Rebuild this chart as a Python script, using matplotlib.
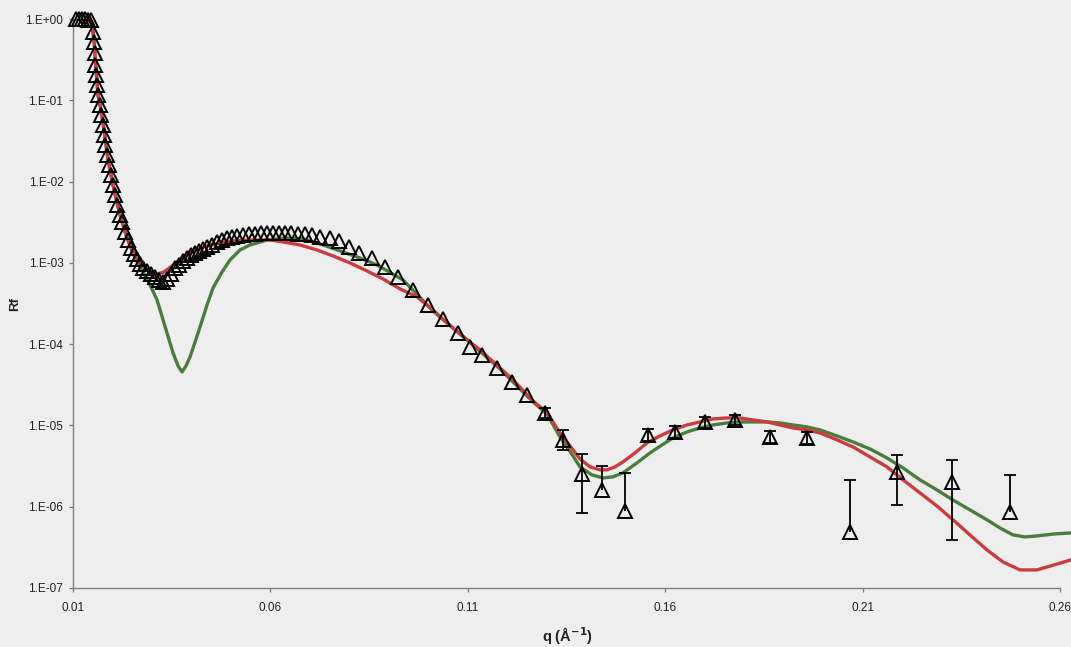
import numpy as np
import matplotlib
matplotlib.use("Agg")
import matplotlib.pyplot as plt
from matplotlib.ticker import FixedLocator, NullLocator

plt.rcParams['font.family'] = ['Liberation Sans', 'DejaVu Sans']

# measured reflectivity (dense low-q part)
q_data = [0.01076, 0.01152, 0.01228, 0.01304, 0.0138, 0.01456,
          0.01507, 0.01532, 0.01545, 0.01557, 0.01583, 0.01608, 0.01633, 0.01684, 0.01709, 0.0176,
          0.01785, 0.01811, 0.01861, 0.01912, 0.01962, 0.02013, 0.02064, 0.02114, 0.0219, 0.02241,
          0.02317, 0.02393, 0.02469, 0.02545, 0.02621, 0.02697, 0.02773, 0.02874, 0.02976, 0.03077,
          0.03178, 0.0328, 0.03381, 0.03482, 0.03584, 0.03685, 0.03786, 0.03888, 0.03989, 0.0409,
          0.04191, 0.04293, 0.04394, 0.04521, 0.04647, 0.04774, 0.049, 0.05027, 0.05154, 0.05306,
          0.05458, 0.0561, 0.05762, 0.05914, 0.06066, 0.06218, 0.0637, 0.06522, 0.06699, 0.06876,
          0.07054, 0.07256, 0.0751, 0.07738, 0.07991, 0.08244, 0.08574, 0.08903, 0.09232, 0.09612,
          0.09992, 0.10372, 0.10752, 0.11056, 0.1136, 0.1174, 0.1212, 0.125]
r_data = [1.0, 1.0, 1.0, 0.99, 0.98, 0.96,
          0.692, 0.521, 0.382, 0.272, 0.205, 0.154, 0.116, 0.0875, 0.0659, 0.0497,
          0.0374, 0.0282, 0.0212, 0.016, 0.01206, 0.00908, 0.00684, 0.00515, 0.00388, 0.00318,
          0.0024, 0.00191, 0.00152, 0.001286, 0.001117, 0.000969, 0.000865, 0.000795, 0.00073, 0.000671,
          0.000616, 0.000582, 0.000634, 0.00073, 0.000865, 0.000942, 0.001055, 0.001148, 0.00125, 0.001324,
          0.0014, 0.001483, 0.00157, 0.00166, 0.00181, 0.00191, 0.00202, 0.00208, 0.00214, 0.0022,
          0.00227, 0.00227, 0.00233, 0.00233, 0.00233, 0.00233, 0.00233, 0.00233, 0.00227, 0.00227,
          0.0022, 0.00208, 0.00202, 0.00186, 0.00157, 0.001324, 0.001148, 0.00089, 0.000671, 0.000464,
          0.000304, 0.000204, 0.000137, 9.2e-05, 7.4e-05, 5.1e-05, 3.4e-05, 2.37e-05]

# high-q points with error bars (nan = no visible lower end)
q_err = [0.12955, 0.13411, 0.13892, 0.1440, 0.14982, 0.15565, 0.16248, 0.17008, 0.17768,
         0.18654, 0.19592, 0.2068, 0.2187, 0.23265, 0.24734]
r_err = [1.43e-05, 6.6e-06, 2.53e-06, 1.61e-06, 8.9e-07, 7.6e-06, 8.3e-06, 1.10e-05, 1.17e-05,
         7.2e-06, 7.0e-06, 4.9e-07, 2.68e-06, 2.02e-06, 8.6e-07]
r_hi = [1.65e-05, 8.8e-06, 4.46e-06, 3.18e-06, 2.6e-06, 9.0e-06, 9.8e-06, 1.28e-05, 1.36e-05,
        8.5e-06, 8.3e-06, 2.14e-06, 4.34e-06, 3.77e-06, 2.46e-06]
r_lo = [1.25e-05, 5.0e-06, 8.4e-07, np.nan, np.nan, 6.4e-06, 7.0e-06, 9.4e-06, 1.0e-05,
        6.1e-06, 5.9e-06, np.nan, 1.05e-06, 3.9e-07, np.nan]

# fit 1 (red)
q_red = [0.01076, 0.0138, 0.01481, 0.01532, 0.01583, 0.01633, 0.01709, 0.01785, 0.01887, 0.02013,
         0.0219, 0.02368, 0.0257, 0.02773, 0.0295, 0.03128, 0.03305, 0.03508, 0.03761, 0.0409,
         0.0447, 0.04977, 0.05483, 0.0599, 0.06319, 0.0675, 0.07181, 0.07586, 0.08016, 0.08447,
         0.08852, 0.09283, 0.09713, 0.10118, 0.10473, 0.1098, 0.11309, 0.11816, 0.12145, 0.12652,
         0.13006, 0.13335, 0.13665, 0.13842, 0.14096, 0.14349, 0.14526, 0.14729, 0.14931, 0.15235,
         0.15539, 0.15868, 0.16197, 0.16552, 0.16881, 0.17211, 0.17565, 0.17894, 0.18224, 0.18578,
         0.18908, 0.19237, 0.19592, 0.19921, 0.20352, 0.20757, 0.21187, 0.21618, 0.22023, 0.22454,
         0.22884, 0.2329, 0.2372, 0.24151, 0.24556, 0.24987, 0.25417, 0.25848, 0.26279]
r_red = [1.0, 1.0, 0.868, 0.552, 0.236, 0.116, 0.076, 0.0431, 0.01845, 0.00908,
         0.00388, 0.00202, 0.001216, 0.000916, 0.000773, 0.00073, 0.000773, 0.000916, 0.001148, 0.001442,
         0.00166, 0.00186, 0.00191, 0.00191, 0.00181, 0.00166, 0.001442, 0.001216, 0.000997, 0.000795,
         0.000634, 0.000478, 0.000381, 0.000264, 0.000182, 0.000113, 8.49e-05, 5.09e-05, 3.63e-05, 2.0e-05,
         1.43e-05, 8.09e-06, 5.0e-06, 3.87e-06, 3.09e-06, 2.84e-06, 2.84e-06, 3.09e-06, 3.56e-06, 4.59e-06,
         6.1e-06, 7.43e-06, 8.81e-06, 1.014e-05, 1.104e-05, 1.202e-05, 1.236e-05, 1.236e-05, 1.169e-05, 1.104e-05,
         1.014e-05, 9.31e-06, 8.81e-06, 8.09e-06, 6.64e-06, 5.44e-06, 4.1e-06, 3.09e-06, 2.14e-06, 1.48e-06,
         1.02e-06, 6.9e-07, 4.5e-07, 2.94e-07, 2.09e-07, 1.67e-07, 1.67e-07, 1.92e-07, 2.22e-07]

# fit 2 (green)
q_green = [0.01076, 0.0138, 0.01481, 0.01532, 0.01583, 0.01633, 0.01709, 0.01785, 0.01887, 0.02013,
           0.0219, 0.02368, 0.0257, 0.02773, 0.0295, 0.03128, 0.0328, 0.03381, 0.03533, 0.0366,
           0.03761, 0.03862, 0.03963, 0.0409, 0.04217, 0.04394, 0.04546, 0.04774, 0.04977, 0.0523,
           0.05483, 0.05914, 0.0637, 0.06826, 0.07332, 0.07839, 0.0827, 0.087, 0.09359, 0.10118,
           0.1098, 0.11816, 0.12652, 0.13006, 0.13335, 0.13665, 0.13842, 0.14146, 0.14425, 0.14678,
           0.14931, 0.15286, 0.15615, 0.15919, 0.16197, 0.16552, 0.16881, 0.17211, 0.17565, 0.17894,
           0.18224, 0.18578, 0.18908, 0.19237, 0.19592, 0.19921, 0.20352, 0.20757, 0.21187, 0.21618,
           0.22023, 0.22454, 0.22884, 0.2329, 0.2372, 0.24151, 0.2448, 0.24809, 0.25113, 0.25417,
           0.25848, 0.26279]
r_green = [1.0, 1.0, 0.868, 0.552, 0.236, 0.116, 0.076, 0.0431, 0.01845, 0.00908,
           0.00388, 0.00202, 0.001148, 0.000773, 0.000535, 0.00035, 0.000199, 0.000137, 7.8e-05, 5.4e-05,
           4.55e-05, 5.4e-05, 6.96e-05, 0.000106, 0.000163, 0.000303, 0.000491, 0.000773, 0.001086, 0.001442,
           0.00166, 0.00191, 0.00202, 0.00197, 0.00166, 0.00136, 0.001148, 0.000942, 0.000616, 0.000256,
           0.000113, 4.95e-05, 1.95e-05, 1.38e-05, 7.22e-06, 4.22e-06, 3.09e-06, 2.46e-06, 2.26e-06, 2.33e-06,
           2.61e-06, 3.46e-06, 4.59e-06, 5.75e-06, 7.02e-06, 8.32e-06, 9.31e-06, 1.014e-05, 1.073e-05, 1.104e-05,
           1.104e-05, 1.104e-05, 1.073e-05, 1.014e-05, 9.59e-06, 8.81e-06, 7.43e-06, 6.27e-06, 5.14e-06, 3.98e-06,
           3.0e-06, 2.14e-06, 1.61e-06, 1.21e-06, 9.14e-07, 6.9e-07, 5.48e-07, 4.5e-07, 4.25e-07, 4.37e-07,
           4.62e-07, 4.76e-07]

x_ticks = [0.01, 0.06, 0.11, 0.16, 0.21, 0.26]
y_ticks = [1e0, 1e-1, 1e-2, 1e-3, 1e-4, 1e-5, 1e-6, 1e-7]
y_labels = ['1.E+00', '1.E-01', '1.E-02', '1.E-03', '1.E-04', '1.E-05', '1.E-06', '1.E-07']

bg = '#eeeeee'
fig = plt.figure(figsize=(10.71, 6.47), dpi=100, facecolor=bg)
ax = fig.add_axes([0.0682, 0.0912, 0.9318, 0.8794], facecolor=bg)

ax.plot(q_green, r_green, color='#4a7d3c', lw=2.4, zorder=2)
ax.plot(q_red, r_red, color='#cc3c3e', lw=2.4, zorder=3)

# error bars
q_err_a = np.array(q_err)
lo = np.array(r_lo)
lo_plot = np.where(np.isnan(lo), np.array(r_err), lo)
ax.vlines(q_err_a, lo_plot, r_hi, color='black', lw=1.3, zorder=4)
ax.plot(q_err_a, r_hi, ls='none', marker='_', ms=9, mew=1.3, color='black', zorder=4)
has_lo = ~np.isnan(lo)
ax.plot(q_err_a[has_lo], lo[has_lo], ls='none', marker='_', ms=9, mew=1.3, color='black', zorder=4)

ax.plot(q_data + q_err, r_data + r_err, ls='none', marker='^', ms=10, mfc='none',
        mec='black', mew=1.4, zorder=5, clip_on=False)

ax.set_yscale('log')
ax.set_xlim(0.01, 0.2628)
ax.set_ylim(1e-7, 1.0)

ax.xaxis.set_major_locator(FixedLocator(x_ticks))
ax.set_xticklabels([f'{t:.2f}' for t in x_ticks])
ax.yaxis.set_major_locator(FixedLocator(y_ticks))
ax.yaxis.set_minor_locator(NullLocator())
ax.set_yticklabels(y_labels)

for s in ['top', 'right']:
    ax.spines[s].set_visible(False)
ax.spines['bottom'].set_bounds(0.01, 0.26)
for s in ['left', 'bottom']:
    ax.spines[s].set_color('#808080')
    ax.spines[s].set_linewidth(1.0)
ax.tick_params(axis='both', colors='#808080', labelcolor='#222222', labelsize=8.5,
               length=3, width=1.0, direction='out', pad=4)
ax.tick_params(axis='x', pad=7)

ax.set_ylabel('Rf', fontsize=9.5, fontweight='bold', labelpad=3, color='#222222')
ax.set_xlabel(r'q (Å$^{\mathbf{-1}}$)', fontsize=10.5, fontweight='bold', color='#222222')
ax.xaxis.set_label_coords(0.495, -0.065)

fig.savefig('out.png', dpi=100, facecolor=bg)
